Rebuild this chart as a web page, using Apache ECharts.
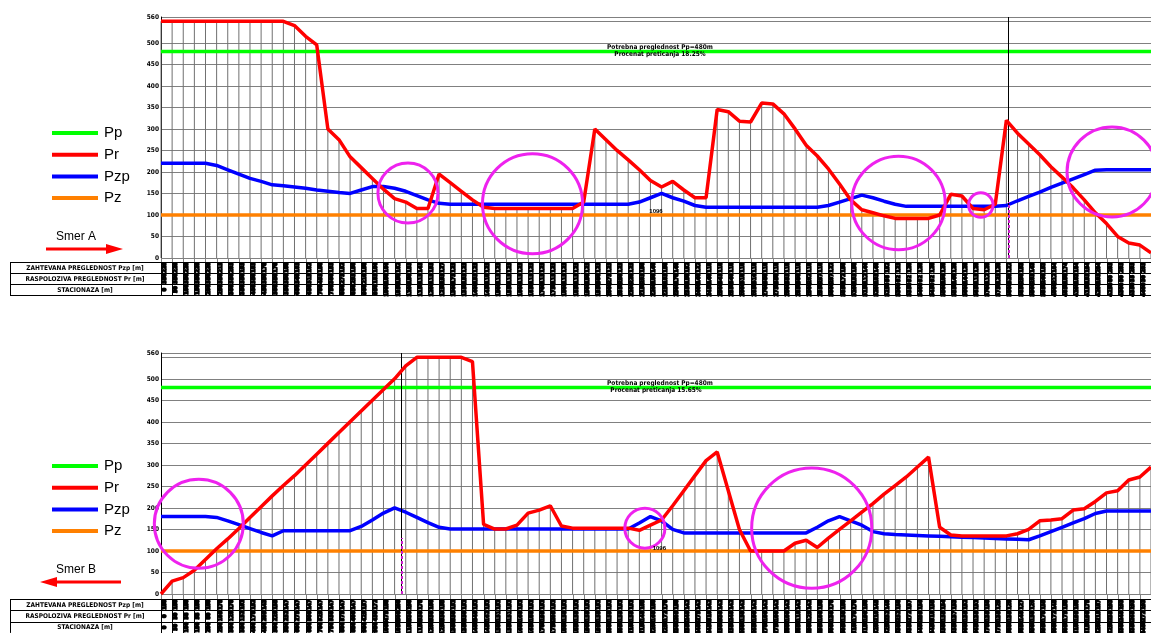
<!DOCTYPE html>
<html>
<head>
<meta charset="utf-8">
<script src="https://cdn.jsdelivr.net/npm/echarts@6/dist/echarts.min.js"></script>
<style>
html,body{margin:0;padding:0;background:#fff}
#chart{width:1151px;height:633px}
</style>
</head>
<body>
<div id="chart"></div>
<script>
// Stationing along the road (m), one column per station
const stationLabels = [
'0','50','100','150','200','250','300','350','400','450',
'500','550','600','650','700','750','800','850','900','950',
'1000','1050','1100','1150','1200','1250','1300','1350','1400','1450',
'1500','1550','1600','1650','1700','1750','1800','1850','1900','1950',
'2000','2050','2100','2150','2200','2250','2300','2350','2400','2450',
'2500','2550','2600','2650','2700','2750','2800','2850','2900','2950',
'3000','3050','3100','3150','3200','3250','3300','3350','3400','3450',
'3500','3550','3600','3650','3700','3750','3800','3850','3900','3950',
'4000','4050','4100','4150','4200','4250','4300','4350','4400','4450'];

const yTicks = [0,50,100,150,200,250,300,350,400,450,500,550,560];

// Required passing sight distance Pp and minimum stopping sight distance Pz (m)
const passingSight = 480;
const stoppingSight = 100;

// Direction A
const prA = [550,550,550,550,550,550,550,550,550,550,550,550,
  540,515,495,300,275,235,210,185,160,138,130,115,115,195,175,155,135,118,
  115,115,115,115,115,115,115,115,
  130,300,275,250,228,205,180,165,178,158,140,140,
  345,340,318,316,360,358,335,300,262,237,
  207,172,135,112,105,98,92,92,92,92,
  100,148,144,115,112,125,320,290,265,240,
  212,188,163,135,105,80,50,35,30,12];
const pzpA = [220,220,220,220,220,
  215,205,195,185,178,170,168,165,162,158,155,152,150,
  158,166,166,162,155,145,135,127,
  125,125,125,125,125,125,125,125,125,125,125,125,125,125,125,125,125,
  130,140,150,140,132,122,
  118,118,118,118,118,118,118,118,118,118,118,
  122,130,138,146,140,132,125,
  120,120,120,120,120,120,120,120,120,
  122,133,143,153,164,174,184,194,204,
  205,205,205,205,205];
// marked zones: [station, value, radius in stations]
const ringsA = [[22.2,151,2.7],[33.4,126,4.5],[66.3,128,4.2],[73.7,123,1.1],[85.5,200,4.05]];
const markA = 76.2;
const noteA = [44.5, 108];

// Direction B
const prB = [0,30,38,55,80,105,128,152,178,203,228,252,275,300,325,350,375,400,425,450,475,500,530,550,
  550,550,550,550,
  540,162,151,151,160,188,195,205,158,153,
  153,153,153,153,153,
  148,160,172,205,240,275,310,330,240,150,
  100,100,100,100,
  118,125,108,130,150,170,190,210,232,252,272,295,318,155,137,
  135,135,135,135,135,
  140,150,170,172,175,195,198,215,235,240,265,272,295];
const pzpB = [180,180,180,180,180,
  178,170,161,152,143,135,147,147,147,147,147,147,147,
  157,172,188,200,190,178,166,155,
  151,151,151,151,151,151,151,151,151,151,151,151,151,151,151,151,151,
  165,180,170,150,
  142,142,142,142,142,142,142,142,142,142,142,142,
  155,170,180,170,160,145,140,138,137,136,135,134,133,132,131,130,129,128,127,126,135,145,155,165,175,187,
  193,193,193,193,193];
const ringsB = [[3.4,163,4.0],[43.5,153,1.8],[58.5,153,5.4]];
const markB = 21.6;
const noteB = [44.8, 105];

const COLORS = {pp:'#00ff00', pr:'#ff0000', pzp:'#0000ff', pz:'#ff8000', ring:'#ee22ee', grid:'#808080'};
const TINY = 'DejaVu Sans Condensed, DejaVu Sans';

const chart = echarts.init(document.getElementById('chart'), null, {renderer:'canvas'});

const plotGrids = [
  {left:161, top:17, width:990, height:241},
  {left:161, top:262, width:990, height:33},
  {left:161, top:353, width:990, height:241},
  {left:161, top:599, width:990, height:34}
];

const xAxes = plotGrids.map((g, k) => ({
  type:'value', gridIndex:k, min:0, max:stationLabels.length - 1, show:false
}));
const yAxes = plotGrids.map((g, k) => (k % 2 === 0 ? {
  type:'value', gridIndex:k, min:0, max:yTicks[yTicks.length - 1], interval:50,
  axisLine:{show:true, lineStyle:{color:'#000', width:1}},
  axisTick:{show:false},
  axisLabel:{color:'#000', fontSize:6.5, fontWeight:'bold', fontFamily:TINY, margin:2,
             customValues:yTicks, showMaxLabel:true, showMinLabel:true, hideOverlap:false},
  splitLine:{show:true, lineStyle:{color:COLORS.grid, width:1}}
} : {type:'value', gridIndex:k, min:0, max:3, inverse:true, show:false}));

function pairs(arr) { return arr.map((v, i) => [i, v]); }

function panelSeries(k, pr, pzp, rings, markX, noteAt) {
  const last = stationLabels.length - 1;
  const lineBase = {type:'line', xAxisIndex:k, yAxisIndex:k, symbol:'none', silent:true, animation:false};
  return [
    // hatching from the axis up to the available sight distance
    {type:'bar', xAxisIndex:k, yAxisIndex:k, data:pairs(pr), barWidth:1, silent:true,
     itemStyle:{color:'#707070'}, z:1, animation:false},
    Object.assign({}, lineBase, {data:[[0, passingSight],[last, passingSight]], lineStyle:{color:COLORS.pp, width:3.5}, z:3}),
    Object.assign({}, lineBase, {data:[[0, stoppingSight],[last, stoppingSight]], lineStyle:{color:COLORS.pz, width:3.5}, z:3,
      markLine:{symbol:'none', silent:true, animation:false, label:{show:false},
        data:[
          {xAxis:markX, lineStyle:{color:'#000', width:1, type:'solid'}},
          [{coord:[markX, 0], lineStyle:{color:'#cc22cc', width:2, type:[3,2]}}, {coord:[markX, 130]}]
        ]}}),
    Object.assign({}, lineBase, {data:pairs(pzp), lineStyle:{color:COLORS.pzp, width:3.5}, z:4}),
    Object.assign({}, lineBase, {data:pairs(pr), lineStyle:{color:COLORS.pr, width:3.5}, z:5}),
    {type:'custom', xAxisIndex:k, yAxisIndex:k, data:rings, silent:true, z:6, animation:false,
     renderItem:function(params, api){
       const c = api.coord([api.value(0), api.value(1)]);
       const r = api.size([api.value(2), 0])[0];
       return {type:'circle', shape:{cx:c[0], cy:c[1], r:r},
               style:{fill:null, stroke:COLORS.ring, lineWidth:3}};
     }},
    {type:'custom', xAxisIndex:k, yAxisIndex:k, data:[noteAt], silent:true, z:6, animation:false,
     renderItem:function(params, api){
       const c = api.coord([api.value(0), api.value(1)]);
       return {type:'text', x:c[0], y:c[1],
               style:{text:'1096', fontSize:6, fontWeight:'bold', fill:'#000', align:'center', verticalAlign:'middle'}};
     }}
  ];
}

function tableSeries(k, pr, pzp) {
  const rows = stationLabels.map((s, i) => [i, pzp[i], pr[i], s]);
  return {
    type:'custom', xAxisIndex:k, yAxisIndex:k, data:rows, silent:true, animation:false, clip:false,
    renderItem:function(params, api){
      const i = api.value(0);
      const x = Math.round(api.coord([i, 0])[0]) + 0.5;
      const cs = params.coordSys;
      const rh = cs.height / 3;
      const texts = [String(pzp[i]), String(pr[i]), stationLabels[i]];
      const children = [
        {type:'line', shape:{x1:x, y1:cs.y - 4, x2:x, y2:cs.y}, style:{stroke:'#808080', lineWidth:1}},
        {type:'line', shape:{x1:x, y1:cs.y, x2:x, y2:cs.y + cs.height}, style:{stroke:'#000', lineWidth:1}}
      ];
      texts.forEach((t, r) => {
        children.push({type:'text', x:x + 3.5, y:cs.y + rh * r + rh / 2, rotation:Math.PI / 2,
          style:{text:t, fontSize:5.5, fontWeight:'bold', fontFamily:'Liberation Sans Narrow, DejaVu Sans Condensed, sans-serif',
                 fill:'#000', stroke:'#000', lineWidth:1.3, align:'center', verticalAlign:'middle'}});
      });
      return {type:'group', children:children};
    }
  };
}

// left-hand furniture: legend, direction arrow, table captions
function sideGraphics(top, plotTop, tableTop, rowH, dirText, pointsRight) {
  const g = [];
  const items = [['Pp', COLORS.pp],['Pr', COLORS.pr],['Pzp', COLORS.pzp],['Pz', COLORS.pz]];
  items.forEach((it, n) => {
    const y = top + n * 21.7;
    g.push({type:'line', shape:{x1:52, y1:y, x2:98, y2:y}, style:{stroke:it[1], lineWidth:4}});
    g.push({type:'text', x:104, y:y, style:{text:it[0], fontSize:15, fontFamily:'Liberation Sans, Arial', fill:'#000', verticalAlign:'middle'}});
  });
  const ty = top + 104;
  g.push({type:'text', x:56, y:ty, style:{text:dirText, fontSize:12, fontFamily:'Liberation Sans, Arial', fill:'#000', verticalAlign:'middle'}});
  const ay = ty + 12;
  if (pointsRight) {
    g.push({type:'line', shape:{x1:46, y1:ay, x2:110, y2:ay}, style:{stroke:'#ff0000', lineWidth:3}});
    g.push({type:'polygon', shape:{points:[[106,ay - 5],[123,ay],[106,ay + 5]]}, style:{fill:'#ff0000'}});
  } else {
    g.push({type:'line', shape:{x1:54, y1:ay, x2:121, y2:ay}, style:{stroke:'#ff0000', lineWidth:3}});
    g.push({type:'polygon', shape:{points:[[57,ay - 5],[40,ay],[57,ay + 5]]}, style:{fill:'#ff0000'}});
  }
  const captions = ['ZAHTEVANA PREGLEDNOST Pzp [m]', 'RASPOLOZIVA PREGLEDNOST Pr [m]', 'STACIONAZA [m]'];
  for (let r = 0; r <= 3; r++) {
    const y = Math.round(tableTop + r * rowH) + 0.5;
    g.push({type:'line', shape:{x1:10, y1:y, x2:1151, y2:y}, style:{stroke:'#000', lineWidth:1}});
  }
  g.push({type:'line', shape:{x1:10.5, y1:tableTop, x2:10.5, y2:tableTop + 3 * rowH}, style:{stroke:'#000', lineWidth:1}});
  captions.forEach((c, r) => {
    g.push({type:'text', x:85, y:tableTop + rowH * r + rowH / 2 + 0.5,
      style:{text:c, fontSize:6.5, fontWeight:'bold', fontFamily:TINY, fill:'#000', align:'center', verticalAlign:'middle'}});
  });
  // caption over the plot
  g.push({type:'text', x:660, y:plotTop + 30, z:100,
    style:{text:'Potrebna preglednost Pp=' + passingSight + 'm', fontSize:6.5, fontWeight:'bold', fontFamily:TINY, fill:'#000', align:'center', verticalAlign:'middle'}});
  return g;
}

const graphics = [].concat(
  sideGraphics(133, 17, 262, 11, 'Smer A', true),
  sideGraphics(466, 353, 599, 11.3, 'Smer B', false),
  [
    {type:'text', x:660, y:54, z:100, style:{text:'Procenat preticanja 18.25%', fontSize:6.5, fontWeight:'bold', fontFamily:TINY, fill:'#000', align:'center', verticalAlign:'middle'}},
    {type:'text', x:656, y:390, z:100, style:{text:'Procenat preticanja 15.65%', fontSize:6.5, fontWeight:'bold', fontFamily:TINY, fill:'#000', align:'center', verticalAlign:'middle'}}
  ]
);

const option = {
  animation:false,
  backgroundColor:'#fff',
  grid:plotGrids,
  xAxis:xAxes,
  yAxis:yAxes,
  graphic:{elements:graphics},
  series:[].concat(
    panelSeries(0, prA, pzpA, ringsA, markA, noteA),
    [tableSeries(1, prA, pzpA)],
    panelSeries(2, prB, pzpB, ringsB, markB, noteB),
    [tableSeries(3, prB, pzpB)]
  )
};
chart.setOption(option);
</script>
</body>
</html>
